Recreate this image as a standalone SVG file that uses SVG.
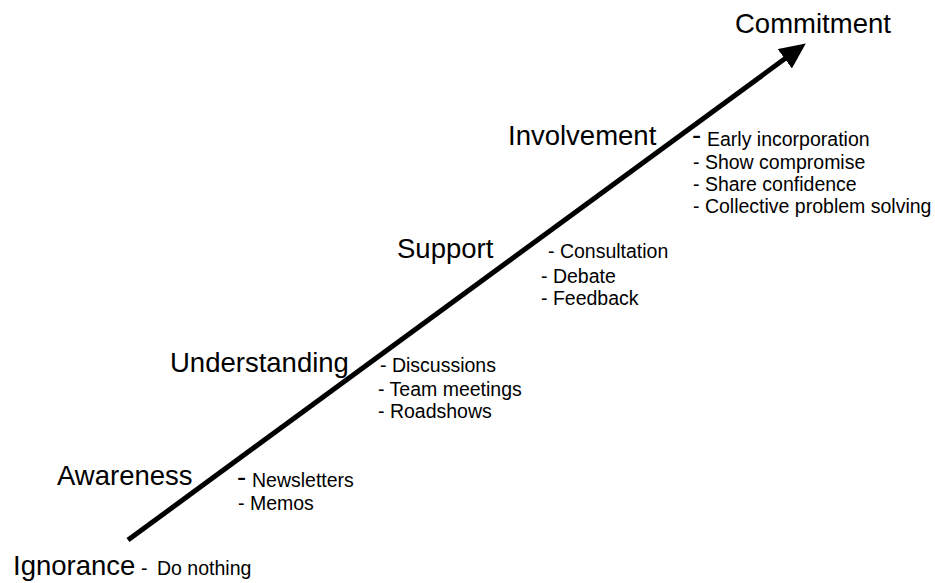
<svg xmlns="http://www.w3.org/2000/svg" width="935" height="583" viewBox="0 0 935 583">
<style>
text{font-family:"Liberation Sans",Arial,sans-serif;fill:#000}
.big{font-size:27.5px}
.small{font-size:19.5px}
.conn{stroke:#000;stroke-width:5;fill:none}
</style>
<defs>
<marker id="ah" markerUnits="userSpaceOnUse" markerWidth="26" markerHeight="24" refX="13" refY="12" orient="auto" viewBox="0 0 26 24">
<path d="M0,0 L26,12 L0,24 Z" fill="#000"/>
</marker>
</defs>
<rect width="935" height="583" fill="#fff"/>
<g id="connectors">
<line class="conn" x1="128" y1="540" x2="795.3" y2="51.1" marker-end="url(#ah)"/>
</g>
<g id="commitment">
<text class="big" x="735" y="33">Commitment</text>
</g>
<g id="involvement">
<text class="big" x="508" y="145">Involvement</text>
<text class="small" x="692" y="146"><tspan font-size="27.5" dy="-2">-</tspan><tspan dy="2" x="707">Early incorporation</tspan></text>
<text class="small" x="693" y="169">- Show compromise</text>
<text class="small" x="693" y="191">- Share confidence</text>
<text class="small" x="693" y="213">- Collective problem solving</text>
</g>
<g id="support">
<text class="big" x="397" y="258">Support</text>
<text class="small" x="548" y="258">- Consultation</text>
<text class="small" x="541" y="283">- Debate</text>
<text class="small" x="541" y="305">- Feedback</text>
</g>
<g id="understanding">
<text class="big" x="170" y="372">Understanding</text>
<text class="small" x="380" y="372">- Discussions</text>
<text class="small" x="378" y="396">- Team meetings</text>
<text class="small" x="378" y="418">- Roadshows</text>
</g>
<g id="awareness">
<text class="big" x="57" y="485">Awareness</text>
<text class="small" x="237" y="487"><tspan font-size="27.5" dy="-1">-</tspan><tspan dy="1" x="252">Newsletters</tspan></text>
<text class="small" x="238" y="510">- Memos</text>
</g>
<g id="ignorance">
<text class="big" x="13" y="575">Ignorance</text>
<text class="small" x="141" y="575">-<tspan x="157">Do nothing</tspan></text>
</g>
</svg>
